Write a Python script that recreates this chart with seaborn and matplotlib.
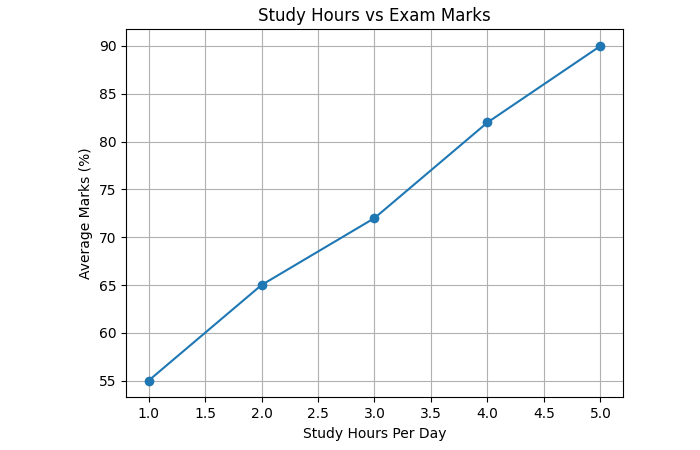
import seaborn as sns
import matplotlib.pyplot as plt

hours = [1, 2, 3, 4, 5]
marks = [55, 65, 72, 82, 90]

fig, ax = plt.subplots(figsize=(7, 4.5), dpi=100)
sns.lineplot(x=hours, y=marks, marker='o', markersize=7, markeredgewidth=0,
             color='#1f77b4', ax=ax)
ax.set_title("Study Hours vs Exam Marks")
ax.set_xlabel("Study Hours Per Day")
ax.set_ylabel("Average Marks (%)")
ax.grid(True)
fig.subplots_adjust(left=0.18, right=0.89, top=0.935, bottom=0.117)
fig.savefig("out.png")
